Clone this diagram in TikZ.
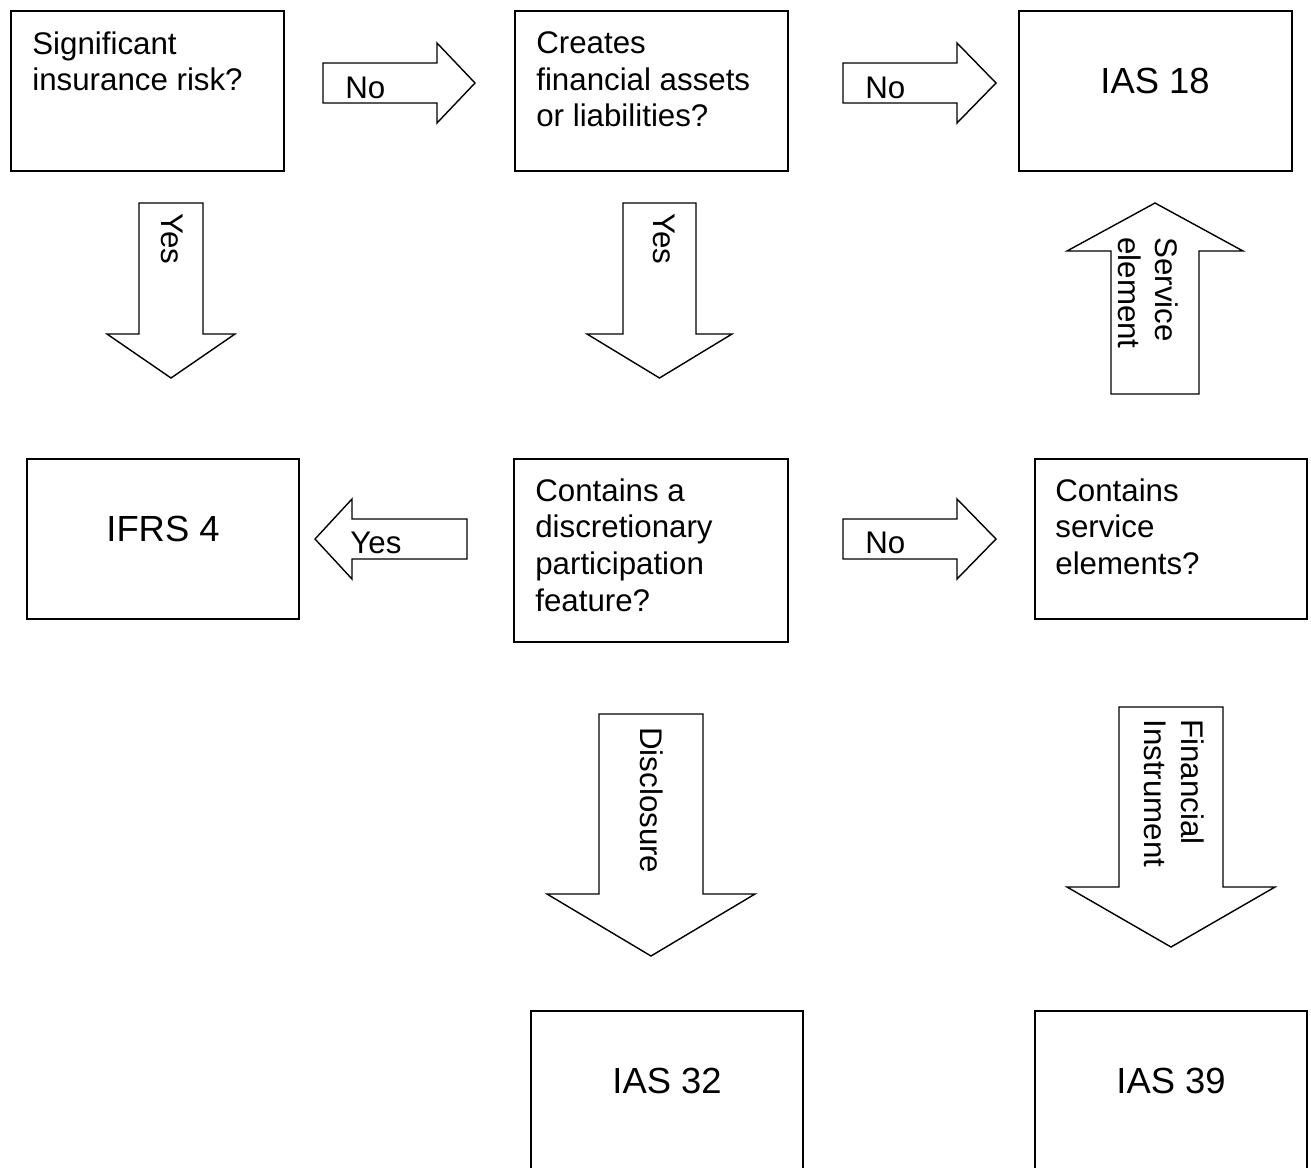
\documentclass[tikz,border=0pt]{standalone}
\usepackage{fontspec}
\setmainfont{Liberation Sans}
\usepackage{tikz}

\begin{document}
\begin{tikzpicture}[x=0.02cm, y=-0.02cm,
    box/.style={draw, line width=1.1pt},
    blk/.style={draw, line width=0.8pt, line join=miter},
    qtext/.style={anchor=north west, align=left, inner sep=0pt, font=\fontsize{17.8}{21}\selectfont},
    stdtext/.style={anchor=base, inner sep=0pt, font=\fontsize{20.7}{25}\selectfont},
    lbl/.style={anchor=base west, inner sep=0pt, font=\fontsize{17.8}{21}\selectfont}]
    \useasboundingbox (0,0) rectangle (1311,1167);

    % Top row of boxes
    \draw[box] (11,11) rectangle (284,171);
    \node[qtext] (risk) at (32,31) {Significant\\insurance risk?};

    \draw[box] (515,11) rectangle (788,171);
    \node[qtext] (creates) at (536,31) {Creates\\financial assets\\or liabilities?};

    \draw[box] (1019,11) rectangle (1292,171);
    \node[stdtext] (ias18) at (1155,93) {IAS 18};

    % Middle row of boxes
    \draw[box] (27,459) rectangle (299,619);
    \node[stdtext] (ifrs4) at (163,541) {IFRS 4};

    \draw[box] (514,459) rectangle (788,642);
    \node[qtext] (dpf) at (535,478) {Contains a\\discretionary\\participation\\feature?};

    \draw[box] (1035,459) rectangle (1307,619);
    \node[qtext] (service) at (1055,478) {Contains\\service\\elements?};

    % Bottom row of boxes
    \draw[box] (531,1011) rectangle (803,1180);
    \node[stdtext] (ias32) at (667,1093) {IAS 32};

    \draw[box] (1035,1011) rectangle (1307,1180);
    \node[stdtext] (ias39) at (1171,1093) {IAS 39};

    % Block arrows - top row
    \draw[blk] (323,63) -- (437,63) -- (437,43) -- (475,83) -- (437,123) -- (437,103) -- (323,103) -- cycle;
    \node[lbl] (no1) at (345,98) {No};

    \draw[blk] (843,63) -- (957,63) -- (957,43) -- (996,83) -- (957,123) -- (957,103) -- (843,103) -- cycle;
    \node[lbl] (no2) at (865,98) {No};

    % Block arrows - downwards from the questions
    \draw[blk] (139,203) -- (203,203) -- (203,334) -- (235,334) -- (171,378) -- (107,334) -- (139,334) -- cycle;
    \node[lbl, rotate=-90] (yes1) at (161,213) {Yes};

    \draw[blk] (623,203) -- (696,203) -- (696,334) -- (732,334) -- (659.5,378) -- (587,334) -- (623,334) -- cycle;
    \node[lbl, rotate=-90] (yes2) at (653,213) {Yes};

    % Service element (upwards)
    \draw[blk] (1111,394) -- (1199,394) -- (1199,251) -- (1243,251) -- (1155,203) -- (1067,251) -- (1111,251) -- cycle;
    \node[qtext, rotate=-90] (servel) at (1178,237) {Service\\element};

    % Block arrows - middle row
    \draw[blk] (467,519) -- (352,519) -- (352,499) -- (315,539) -- (352,579) -- (352,559) -- (467,559) -- cycle;
    \node[lbl] (yes3) at (350,553) {Yes};

    \draw[blk] (843,519) -- (957,519) -- (957,499) -- (996,539) -- (957,579) -- (957,559) -- (843,559) -- cycle;
    \node[lbl] (no3) at (865,553) {No};

    % Block arrows - down to the bottom row
    \draw[blk] (599,714) -- (703,714) -- (703,894) -- (755,894) -- (651,956) -- (547,894) -- (599,894) -- cycle;
    \node[lbl, rotate=-90] (discl) at (640,727) {Disclosure};

    \draw[blk] (1119,707) -- (1223,707) -- (1223,887) -- (1275,887) -- (1171,947) -- (1067,887) -- (1119,887) -- cycle;
    \node[qtext, rotate=-90] (fininst) at (1204,719) {Financial\\Instrument};
\end{tikzpicture}
\end{document}
